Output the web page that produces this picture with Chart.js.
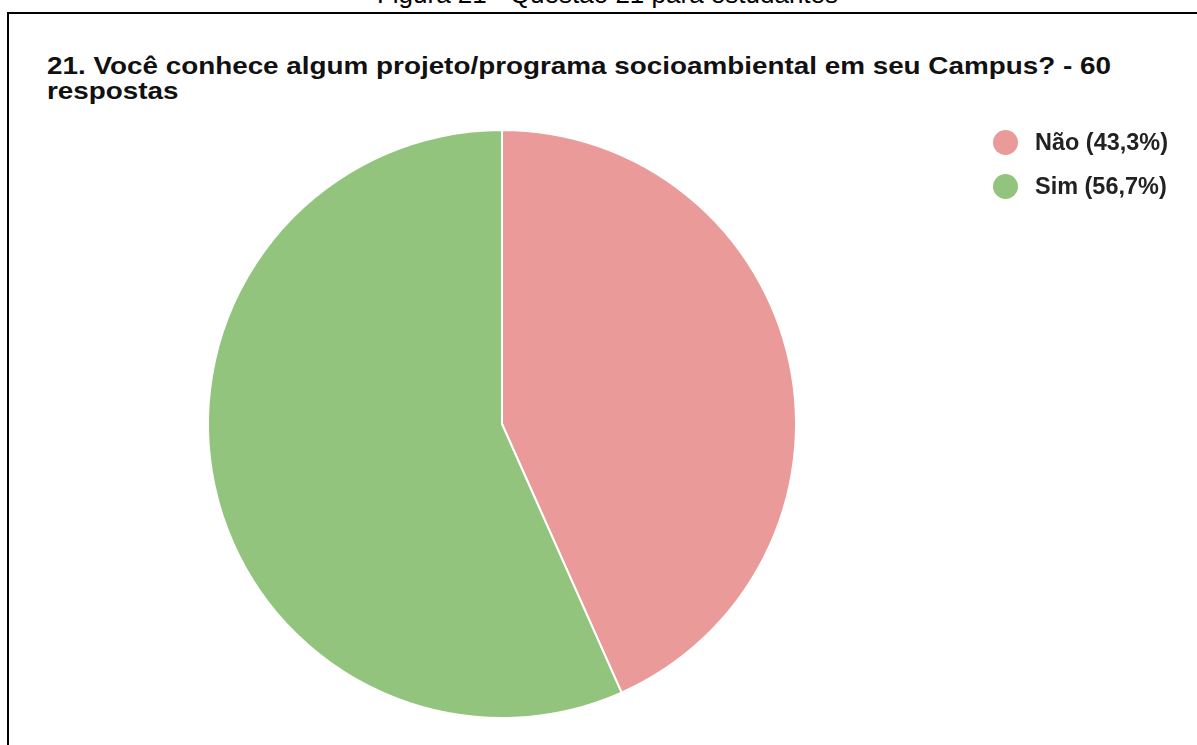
<!DOCTYPE html>
<html><head><meta charset="utf-8">
<script src="https://cdn.jsdelivr.net/npm/chart.js@4/dist/chart.umd.min.js"></script>
<style>
html,body{margin:0;padding:0;background:#fff;width:1197px;height:745px;overflow:hidden;position:relative;font-family:"Liberation Sans",Arial,sans-serif;}
#caption{position:absolute;left:0;width:1215px;text-align:center;top:-19px;font-size:26px;line-height:26px;color:#000;white-space:nowrap;}
#frame{position:absolute;left:7px;top:12px;width:1200px;height:800px;border-left:2px solid #000;border-top:2px solid #000;}
#title{position:absolute;left:47px;top:52.5px;font-size:24px;font-weight:bold;color:#111;line-height:25px;transform-origin:0 0;transform:scaleX(1.16);white-space:nowrap;}
#wrap{position:absolute;left:0;top:0;width:1197px;height:745px;}
#legend{position:absolute;left:993px;top:120px;}
.li{display:flex;align-items:center;height:44.4px;font-size:23px;line-height:23px;font-weight:bold;color:#222;white-space:nowrap;}
.dot{width:25px;height:25px;border-radius:50%;margin-right:17px;flex:none;}
.txt{display:inline-block;transform-origin:0 50%;transform:scaleX(1.02);}
</style></head><body>
<div id="caption">Figura 21 - Questão 21 para estudantes</div>
<div id="frame"></div>
<div id="title">21. Você conhece algum projeto/programa socioambiental em seu Campus? - 60<br>respostas</div>
<div id="wrap"><canvas id="c" width="1197" height="745"></canvas></div>
<div id="legend"></div>
<script>
const categories = ["Não", "Sim"];
const values = [26, 34];
const percentLabels = ["43,3%", "56,7%"];
const colors = ["#E99A99", "#93C47D"];

const chart = new Chart(document.getElementById('c'), {
  type: 'pie',
  data: {
    labels: categories,
    datasets: [{ data: values, backgroundColor: colors, borderColor: '#ffffff', borderWidth: 2 }]
  },
  options: {
    responsive: false,
    animation: false,
    layout: { padding: { left: 207, top: 129, right: 400, bottom: 26 } },
    plugins: { legend: { display: false }, tooltip: { enabled: false }, title: { display: false } }
  }
});

const lg = document.getElementById('legend');
categories.forEach((c, i) => {
  const d = document.createElement('div'); d.className = 'li';
  const dot = document.createElement('span'); dot.className = 'dot'; dot.style.background = colors[i];
  const t = document.createElement('span'); t.className = 'txt'; t.textContent = c + ' (' + percentLabels[i] + ')';
  d.appendChild(dot); d.appendChild(t); lg.appendChild(d);
});
</script>
</body></html>
